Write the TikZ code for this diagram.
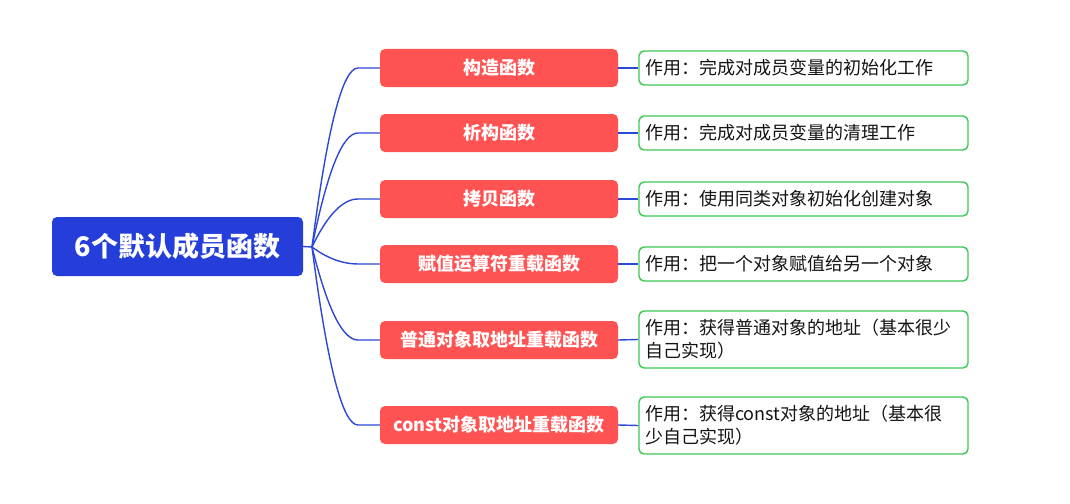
\documentclass[tikz,border=0pt]{standalone}
\usepackage{fontspec}
\setmainfont{Noto Sans CJK SC}
\usetikzlibrary{calc}
\definecolor{rootblue}{RGB}{37,62,218}
\definecolor{linkblue}{RGB}{46,72,214}
\definecolor{redfill}{RGB}{255,82,82}
\definecolor{greenline}{RGB}{60,200,85}
\definecolor{textdark}{RGB}{20,20,20}
\begin{document}
\begin{tikzpicture}[x=1pt,y=-1pt,
 rootbox/.style={fill=rootblue, rounded corners=5pt, minimum width=251pt, minimum height=59pt, text=white, font=\fontsize{27}{31}\selectfont\bfseries, inner sep=0pt},
 redbox/.style={fill=redfill, rounded corners=5pt, minimum width=238pt, minimum height=38pt, text=white, font=\fontsize{18}{22}\selectfont\bfseries, inner sep=0pt},
 greenbox/.style={draw=greenline, line width=1.4pt, fill=white, rounded corners=5pt, minimum width=329pt, text width=317pt, align=left, inner xsep=6pt, inner ysep=0pt, font=\fontsize{18}{23}\selectfont, text=textdark},
 conn/.style={draw=linkblue, line width=1.4pt}]
\useasboundingbox (0,0) rectangle (1070,503);
\fill[white] (0,0) rectangle (1070,503);

\node[rootbox] (root) at (177.5,246.5) {6个默认成员函数};

\node[redbox] (r1) at (499,68) {构造函数};
\node[redbox] (r2) at (499,133) {析构函数};
\node[redbox] (r3) at (499,199) {拷贝函数};
\node[redbox] (r4) at (499,264) {赋值运算符重载函数};
\node[redbox] (r5) at (499,340) {普通对象取地址重载函数};
\node[redbox] (r6) at (499,425) {const对象取地址重载函数};

\node[greenbox, minimum height=34pt] (g1) at (803.5,68) {作用：完成对成员变量的初始化工作};
\node[greenbox, minimum height=34pt] (g2) at (803.5,133) {作用：完成对成员变量的清理工作};
\node[greenbox, minimum height=34pt] (g3) at (803.5,199) {作用：使用同类对象初始化创建对象};
\node[greenbox, minimum height=34pt] (g4) at (803.5,264) {作用：把一个对象赋值给另一个对象};
\node[greenbox, minimum height=57pt] (g5) at (803.5,339.5) {作用：获得普通对象的地址（基本很少\\自己实现）};
\node[greenbox, minimum height=57pt] (g6) at (803.5,425.5) {作用：获得const对象的地址（基本很\\少自己实现）};

\coordinate (j) at (312,247);
\draw[conn] (root.east) -- (j);
\foreach \i/\yy in {1/68,2/133,3/199,4/264,5/340,6/425}{
  \coordinate (c\i) at (335,\yy);
  \coordinate (t\i) at (358,\yy);
  \draw[conn] (j) .. controls ($(j)!0.6667!(c\i)$) and ($(t\i)!0.6667!(c\i)$) .. (t\i) -- (r\i.west);
  \draw[conn] (r\i.east) -- (g\i.west);
}
\end{tikzpicture}
\end{document}
